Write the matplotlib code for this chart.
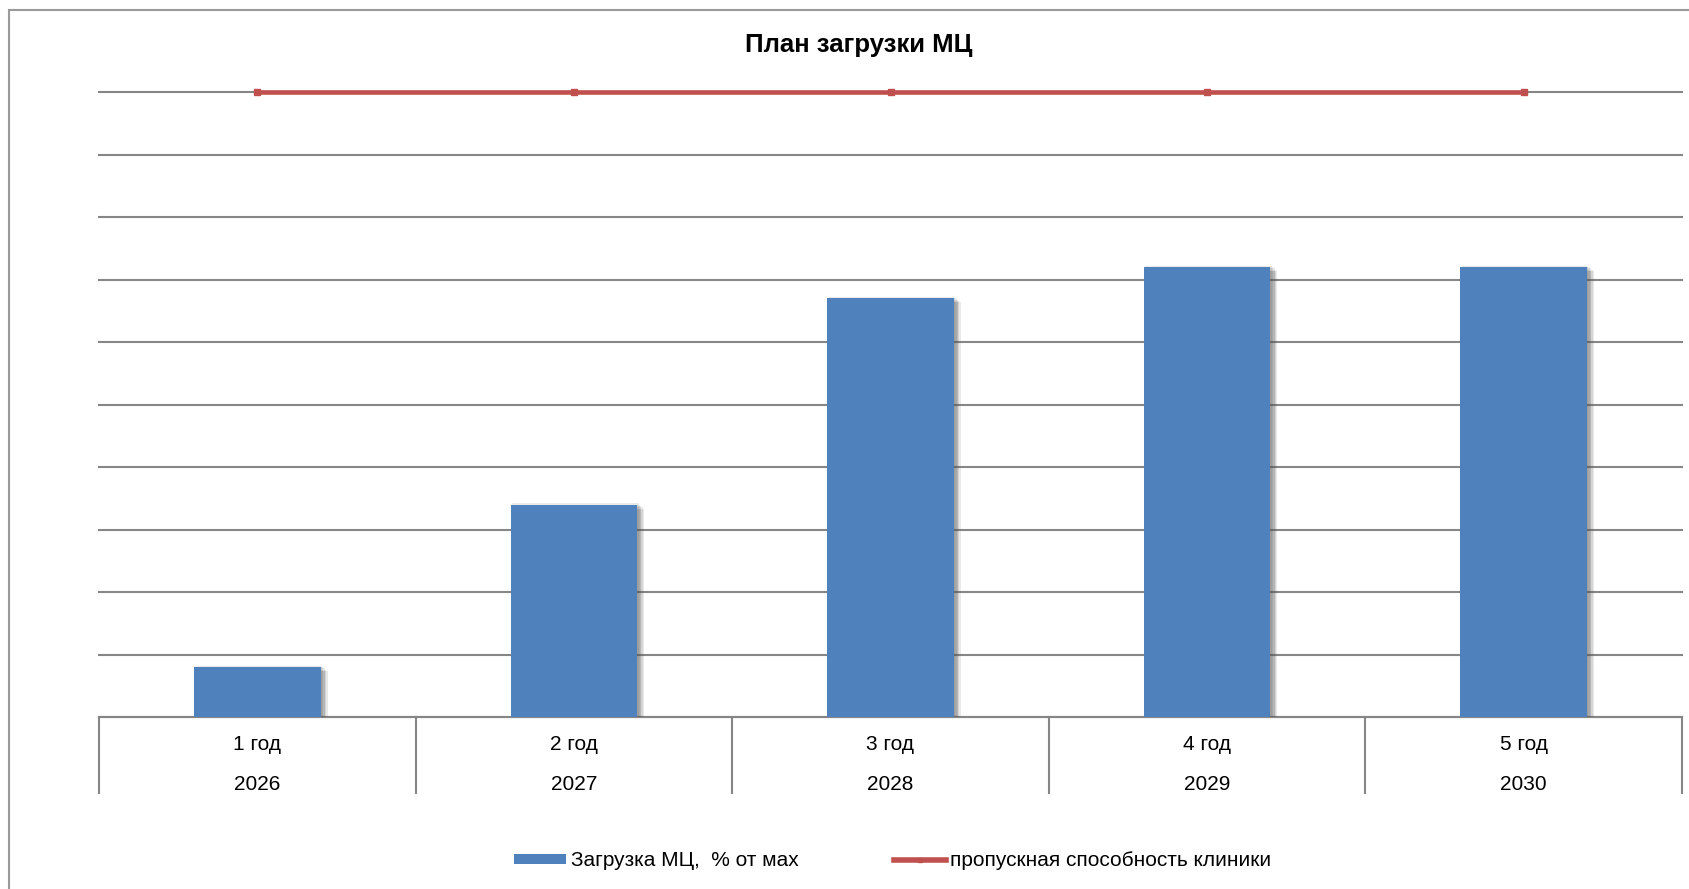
import matplotlib.pyplot as plt
import matplotlib.patheffects as pe
from matplotlib.patches import Rectangle, Patch
from matplotlib.lines import Line2D
from matplotlib.transforms import blended_transform_factory

plt.rcParams['font.family'] = ['Liberation Sans', 'DejaVu Sans']

# data
periods = ['1 год', '2 год', '3 год', '4 год', '5 год']
years = ['2026', '2027', '2028', '2029', '2030']
load = [8, 34, 67, 72, 72]          # Загрузка МЦ, % от мах
capacity = [100, 100, 100, 100, 100]  # пропускная способность клиники

blue = '#4F81BD'
red = '#C0504D'
grid_c = '#868686'

W, H = 1689, 889
fig = plt.figure(figsize=(W / 100, H / 100), dpi=100)
ax = fig.add_axes([99 / W, 1 - 717 / H, (1682 - 99) / W, (717 - 92) / H])

x = list(range(len(periods)))
bars = ax.bar(x, load, width=0.4, color=blue, zorder=3)
# soft shadow, a few faint layers to fake the blur
shadow = [pe.SimplePatchShadow(offset=o, shadow_rgbFace='#555555', alpha=0.13)
          for o in [(1, 1), (2, 0), (3, -1), (4, -2), (5, -3), (3, -3)]]
for b in bars:
    b.set_path_effects(shadow + [pe.Normal()])

ax.plot(x, capacity, color=red, lw=3.3, marker='s', ms=4, zorder=4, clip_on=False)

ax.set_xlim(-0.5, 4.5)
ax.set_ylim(0, 100)
ax.set_yticks(range(0, 101, 10))
ax.yaxis.grid(True, color=grid_c, lw=1.5)
for gl in ax.get_ygridlines():
    gl.set_clip_on(False)
ax.set_axisbelow(True)
ax.tick_params(left=False, bottom=False, labelleft=False, labelbottom=False)
for s in ['top', 'right', 'left']:
    ax.spines[s].set_visible(False)
ax.spines['bottom'].set_color(grid_c)
ax.spines['bottom'].set_linewidth(1.5)

# category separators and two-level labels
trans = blended_transform_factory(ax.transData, ax.transAxes)
for b in [i - 0.5 for i in range(len(periods) + 1)]:
    ax.plot([b, b], [0, -0.1216], transform=trans, color=grid_c, lw=1.5, clip_on=False)
for i in x:
    ax.text(i, -0.0448, periods[i], transform=trans, ha='center', va='center', fontsize=15)
    ax.text(i, -0.1088, years[i], transform=trans, ha='center', va='center', fontsize=15)

fig.text(859 / W, 1 - 45 / H, 'План загрузки МЦ', ha='center', va='center',
         fontsize=18.5, fontweight='bold')

# outer chart frame
fig.patches.append(Rectangle((9 / W, -0.1), 1.2, 1 - 10 / H + 0.1, transform=fig.transFigure,
                             fill=False, edgecolor='#9a9a9a', lw=1.5))

handles = [Patch(facecolor=blue, edgecolor='none'),
           Line2D([], [], color=red, lw=4, marker='s', ms=3)]
labels = ['Загрузка МЦ,  % от мах', 'пропускная способность клиники']
fig.legend(handles, labels, loc='center', bbox_to_anchor=(893 / W, 1 - 861 / H), ncol=2,
           frameon=False, fontsize=15, handlelength=2.5, handleheight=0.4,
           handletextpad=0.2, columnspacing=4.6)

fig.savefig('out.png', dpi=100)
